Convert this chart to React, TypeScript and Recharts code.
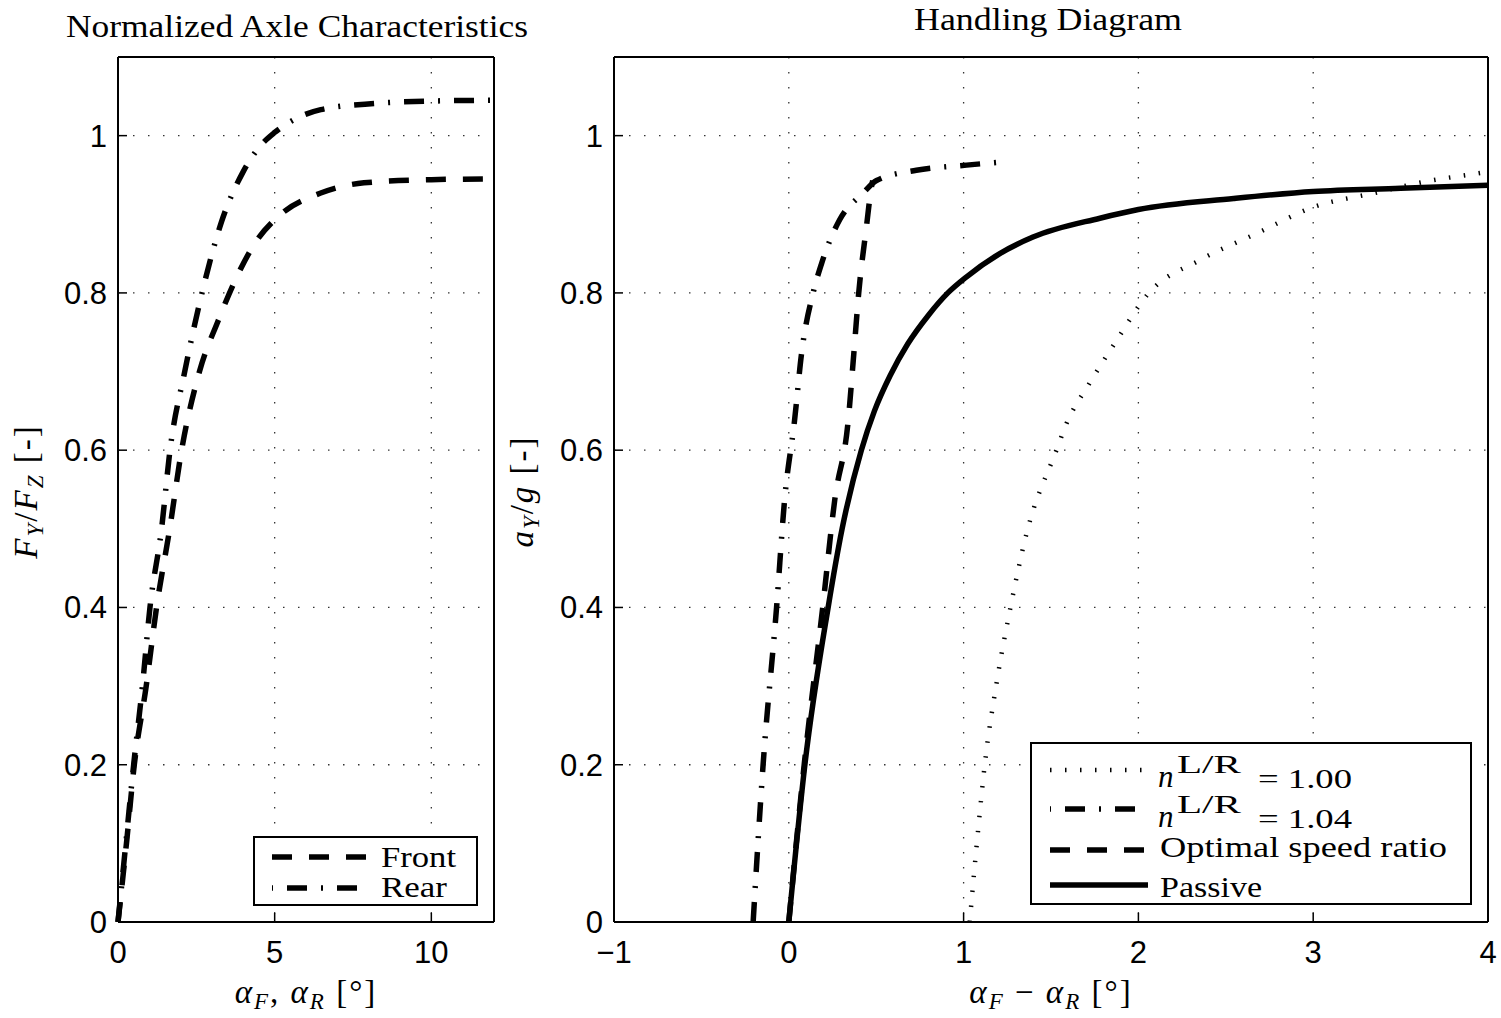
import React from "react";
import { LineChart, Line, XAxis, YAxis, CartesianGrid, Legend } from "recharts";

// Normalized axle characteristics (slip angle in deg -> Fy/Fz)
const frontSlip = [0, 0.27, 0.52, 0.9, 1.23, 1.65, 2.03, 2.6, 3.2, 3.75, 4.4, 5.11, 6.47, 7.85, 10, 12];
const frontForce = [0, 0.1, 0.2, 0.3, 0.4, 0.5, 0.6, 0.7, 0.765, 0.817, 0.865, 0.897, 0.927, 0.94, 0.944, 0.945];
const rearSlip = [0, 0.25, 0.5, 0.78, 1.02, 1.39, 1.66, 2.13, 2.73, 3.3, 3.98, 4.5, 5.0, 5.7, 6.47, 8.2, 10, 12];
const rearForce = [0, 0.1, 0.2, 0.3, 0.4, 0.5, 0.6, 0.7, 0.808, 0.89, 0.953, 0.985, 1.004, 1.022, 1.033, 1.041, 1.044, 1.045];

// Handling diagram (alphaF - alphaR in deg -> ay/g)
const n100Delta = [1.035, 1.083, 1.121, 1.188, 1.268, 1.36, 1.531, 1.589, 1.72, 1.865, 2.06, 2.354, 2.68, 3.0, 3.35, 3.676, 3.944, 4.0];
const n100Ay = [0, 0.117, 0.2, 0.303, 0.4, 0.494, 0.6, 0.634, 0.685, 0.736, 0.8, 0.842, 0.876, 0.909, 0.927, 0.943, 0.952, 0.954];
const n104Delta = [-0.204, -0.147, -0.07, -0.024, 0.033, 0.073, 0.139, 0.187, 0.291, 0.425, 0.502, 0.73, 1.017, 1.245];
const n104Ay = [0, 0.2, 0.4, 0.537, 0.638, 0.723, 0.8, 0.837, 0.893, 0.927, 0.943, 0.956, 0.9625, 0.967];
const optimalDelta = [0, 0.088, 0.194, 0.263, 0.34, 0.372, 0.4, 0.444, 0.473, 0.48];
const optimalAy = [0, 0.2, 0.4, 0.537, 0.638, 0.723, 0.8, 0.884, 0.935, 0.943];
const passiveDelta = [0, 0.092, 0.225, 0.305, 0.415, 0.49, 0.58, 0.68, 0.8, 0.91, 1.017, 1.207, 1.397, 1.78, 2.0, 2.545, 3.0, 3.5, 4.0];
const passiveAy = [0, 0.2, 0.4, 0.5, 0.6, 0.65, 0.695, 0.735, 0.772, 0.8, 0.8205, 0.85, 0.871, 0.895, 0.906, 0.92, 0.929, 0.933, 0.937];

const yTicks = [0, 0.2, 0.4, 0.6, 0.8, 1];
const leftXTicks = [0, 5, 10];
const rightXTicks = [-1, 0, 1, 2, 3, 4];

const sans = "'Liberation Sans', Arial, Helvetica, sans-serif";
const serif = "'Liberation Serif', 'Times New Roman', serif";

const DASHED = "20 17";
const DASHDOT = "20 14 2 14";
const DOTTED = "1.5 13.5";
const LW = 5.5;

const zip = (xs: number[], ys: number[]) => xs.map((x, i) => ({ x, y: ys[i] }));

const fmt = (v: number) => {
  const s = String(Math.round(v * 10) / 10);
  return v < 0 ? "\u2212" + s.slice(1) : s;
};

function LeftTick({ x, y, payload }: any) {
  return (
    <g>
      <line x1={x} x2={x + 9} y1={y} y2={y} stroke="#000" strokeWidth={1.5} />
      <text x={x - 11} y={y + 11} textAnchor="end" fontSize={31} fontFamily={sans} fill="#000">
        {fmt(payload.value)}
      </text>
    </g>
  );
}

function BottomTick({ x, y, payload }: any) {
  return (
    <g>
      <line x1={x} x2={x} y1={y} y2={y - 9} stroke="#000" strokeWidth={1.5} />
      <text x={x} y={y + 41} textAnchor="middle" fontSize={31} fontFamily={sans} fill="#000">
        {fmt(payload.value)}
      </text>
    </g>
  );
}

function TopTick({ x, y }: any) {
  return <line x1={x} x2={x} y1={y} y2={y + 9} stroke="#000" strokeWidth={1.5} />;
}

function RightTick({ x, y }: any) {
  return <line x1={x} x2={x - 9} y1={y} y2={y} stroke="#000" strokeWidth={1.5} />;
}

function XLabel({ viewBox, right }: any) {
  const cx = viewBox.x + viewBox.width / 2;
  const y = viewBox.y + 81;
  return (
    <text x={cx} y={y} textAnchor="middle" fontSize={33} letterSpacing={2} fontFamily={serif} fill="#000">
      <tspan fontStyle="italic">α</tspan>
      <tspan fontStyle="italic" fontSize={23} dy={6}>F</tspan>
      <tspan dy={-6}>{right ? " \u2212 " : ", "}</tspan>
      <tspan fontStyle="italic">α</tspan>
      <tspan fontStyle="italic" fontSize={23} dy={6}>R</tspan>
      <tspan dy={-6}>{"  [°]"}</tspan>
    </text>
  );
}

function YLabel({ viewBox, right }: any) {
  const x = viewBox.x - 80;
  const cy = viewBox.y + viewBox.height / 2 + 2;
  return (
    <text
      x={x}
      y={cy}
      transform={`rotate(-90 ${x} ${cy})`}
      textAnchor="middle"
      fontSize={33}
      letterSpacing={2}
      fontFamily={serif}
      fill="#000"
    >
      {right ? (
        <>
          <tspan fontStyle="italic">a</tspan>
          <tspan fontStyle="italic" fontSize={23} dy={6}>Y</tspan>
          <tspan dy={-6}>/</tspan>
          <tspan fontStyle="italic">g</tspan>
          <tspan>{"  [-]"}</tspan>
        </>
      ) : (
        <>
          <tspan fontStyle="italic">F</tspan>
          <tspan fontStyle="italic" fontSize={23} dy={6}>Y</tspan>
          <tspan dy={-6}>/</tspan>
          <tspan fontStyle="italic">F</tspan>
          <tspan fontStyle="italic" fontSize={23} dy={6}>Z</tspan>
          <tspan dy={-6}>{"  [-]"}</tspan>
        </>
      )}
    </text>
  );
}

function AxleLegend() {
  return (
    <svg width={225} height={70} style={{ display: "block" }}>
      <rect x={1} y={1} width={223} height={68} fill="#fff" stroke="#000" strokeWidth={2} />
      <line x1={19} x2={117} y1={21} y2={21} stroke="#000" strokeWidth={LW} strokeDasharray={DASHED} />
      <line x1={19} x2={117} y1={52} y2={52} stroke="#000" strokeWidth={LW} strokeDasharray={DASHDOT} strokeDashoffset={35} />
      <text x={128} y={31} fontSize={29} fontFamily={serif} textLength={75} lengthAdjust="spacingAndGlyphs">Front</text>
      <text x={128} y={61} fontSize={29} fontFamily={serif} textLength={66} lengthAdjust="spacingAndGlyphs">Rear</text>
    </svg>
  );
}

function HandlingLegend() {
  const ratios = ["1.00", "1.04"];
  return (
    <svg width={442} height={163} style={{ display: "block" }}>
      <rect x={1} y={1} width={440} height={161} fill="#fff" stroke="#000" strokeWidth={2} />
      <line x1={20} x2={118} y1={28} y2={28} stroke="#000" strokeWidth={4.5} strokeDasharray={DOTTED} />
      <line x1={20} x2={118} y1={67} y2={67} stroke="#000" strokeWidth={LW} strokeDasharray={DASHDOT} strokeDashoffset={35} />
      <line x1={20} x2={118} y1={108} y2={108} stroke="#000" strokeWidth={LW} strokeDasharray={DASHED} />
      <line x1={20} x2={118} y1={143} y2={143} stroke="#000" strokeWidth={LW} />
      {ratios.map((r, i) => (
        <g key={r} fontFamily={serif} fill="#000">
          <text x={128} y={45 + i * 40} fontSize={31} fontStyle="italic">n</text>
          <text x={147} y={31 + i * 40} fontSize={25} textLength={64} lengthAdjust="spacingAndGlyphs">L/R</text>
          <text x={228} y={46 + i * 40} fontSize={27} textLength={94} lengthAdjust="spacingAndGlyphs">{"= " + r}</text>
        </g>
      ))}
      <text x={130} y={115} fontSize={29} fontFamily={serif} textLength={287} lengthAdjust="spacingAndGlyphs">
        Optimal speed ratio
      </text>
      <text x={130} y={155} fontSize={29} fontFamily={serif} textLength={102} lengthAdjust="spacingAndGlyphs">
        Passive
      </text>
    </svg>
  );
}

const gridProps = { stroke: "#333", strokeDasharray: "1.5 13.5", strokeWidth: 1.3 };
const axisLine = { stroke: "#000", strokeWidth: 2 };

export default function App() {
  return (
    <div style={{ position: "absolute", left: 0, top: 0, width: 1501, height: 1018, background: "#fff" }}>
      <svg width={1501} height={1018} style={{ position: "absolute", left: 0, top: 0 }}>
        <text x={297} y={37} textAnchor="middle" fontSize={32} fontFamily={serif} textLength={462} lengthAdjust="spacingAndGlyphs">
          Normalized Axle Characteristics
        </text>
        <text x={1048} y={30} textAnchor="middle" fontSize={32} fontFamily={serif} textLength={268} lengthAdjust="spacingAndGlyphs">
          Handling Diagram
        </text>
      </svg>

      <div style={{ position: "absolute", left: 0, top: 0 }}>
        <LineChart width={500} height={1018} margin={{ top: 56, right: 5, bottom: 95, left: 117 }}>
          <CartesianGrid {...gridProps} />
          <XAxis type="number" dataKey="x" domain={[0, 12]} ticks={leftXTicks} interval={0} height={1}
            tickSize={0} tickMargin={0} tickLine={false} tick={<BottomTick />} axisLine={axisLine} label={<XLabel />} />
          <XAxis xAxisId="top" orientation="top" type="number" domain={[0, 12]} ticks={leftXTicks} interval={0}
            height={1} tickSize={0} tickMargin={0} tickLine={false} tick={<TopTick />} axisLine={axisLine} />
          <YAxis type="number" domain={[0, 1.1]} ticks={yTicks} interval={0} width={1}
            tickSize={0} tickMargin={0} tickLine={false} tick={<LeftTick />} axisLine={axisLine} label={<YLabel />} />
          <YAxis yAxisId="right" orientation="right" type="number" domain={[0, 1.1]} ticks={yTicks} interval={0}
            width={1} tickSize={0} tickMargin={0} tickLine={false} tick={<RightTick />} axisLine={axisLine} />
          <Line data={zip(frontSlip, frontForce)} dataKey="y" type="monotone" stroke="#000" strokeWidth={LW}
            strokeDasharray={DASHED} dot={false} activeDot={false} isAnimationActive={false} />
          <Line data={zip(rearSlip, rearForce)} dataKey="y" type="monotone" stroke="#000" strokeWidth={LW}
            strokeDasharray={DASHDOT} dot={false} activeDot={false} isAnimationActive={false} />
          <Legend layout="horizontal" verticalAlign="middle" align="center" content={() => <AxleLegend />}
            wrapperStyle={{ left: 253, top: 836, width: 225, height: 70 }} />
        </LineChart>
      </div>

      <div style={{ position: "absolute", left: 500, top: 0 }}>
        <LineChart width={1001} height={1018} margin={{ top: 56, right: 12, bottom: 95, left: 113 }}>
          <CartesianGrid {...gridProps} />
          <XAxis type="number" dataKey="x" domain={[-1, 4]} ticks={rightXTicks} interval={0} height={1}
            tickSize={0} tickMargin={0} tickLine={false} tick={<BottomTick />} axisLine={axisLine} label={<XLabel right />} />
          <XAxis xAxisId="top" orientation="top" type="number" domain={[-1, 4]} ticks={rightXTicks} interval={0}
            height={1} tickSize={0} tickMargin={0} tickLine={false} tick={<TopTick />} axisLine={axisLine} />
          <YAxis type="number" domain={[0, 1.1]} ticks={yTicks} interval={0} width={1}
            tickSize={0} tickMargin={0} tickLine={false} tick={<LeftTick />} axisLine={axisLine} label={<YLabel right />} />
          <YAxis yAxisId="right" orientation="right" type="number" domain={[0, 1.1]} ticks={yTicks} interval={0}
            width={1} tickSize={0} tickMargin={0} tickLine={false} tick={<RightTick />} axisLine={axisLine} />
          <Line data={zip(n100Delta, n100Ay)} dataKey="y" type="monotone" stroke="#000" strokeWidth={4.5}
            strokeDasharray={DOTTED} dot={false} activeDot={false} isAnimationActive={false} />
          <Line data={zip(n104Delta, n104Ay)} dataKey="y" type="monotone" stroke="#000" strokeWidth={LW}
            strokeDasharray={DASHDOT} dot={false} activeDot={false} isAnimationActive={false} />
          <Line data={zip(optimalDelta, optimalAy)} dataKey="y" type="monotone" stroke="#000" strokeWidth={LW}
            strokeDasharray={DASHED} dot={false} activeDot={false} isAnimationActive={false} />
          <Line data={zip(passiveDelta, passiveAy)} dataKey="y" type="monotone" stroke="#000" strokeWidth={LW}
            dot={false} activeDot={false} isAnimationActive={false} />
          <Legend layout="horizontal" verticalAlign="middle" align="center" content={() => <HandlingLegend />}
            wrapperStyle={{ left: 530, top: 742, width: 442, height: 163 }} />
        </LineChart>
      </div>
    </div>
  );
}
